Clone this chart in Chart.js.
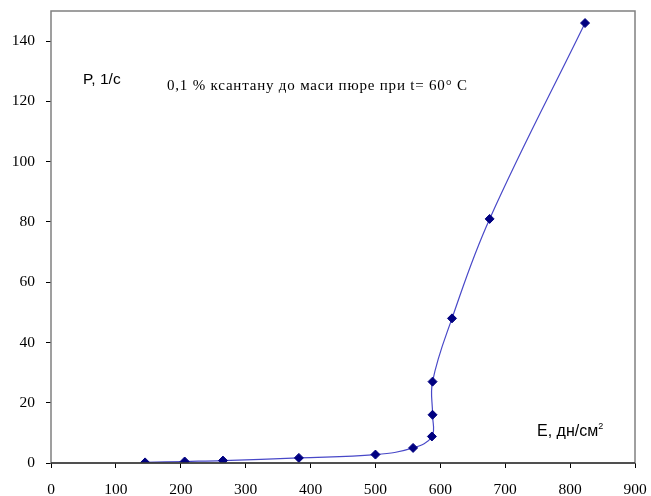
<!DOCTYPE html>
<html>
<head>
<meta charset="utf-8">
<script src="https://cdn.jsdelivr.net/npm/chart.js@4"></script>
<style>
  html, body { margin: 0; padding: 0; background: #fff; }
  #wrap { width: 651px; height: 496px; }
</style>
</head>
<body>
<div id="wrap"><canvas id="chart" width="651" height="496"></canvas></div>
<script>
// data
const shearStress = [145, 206, 265, 382, 500, 558, 587, 588, 588, 618, 676, 823]; // E, дн/см²
const shearRate   = [0.2, 0.5, 0.8, 1.7, 2.8, 5.0, 8.8, 16, 27, 48, 81, 146];     // P, 1/с
const xTicks = [0, 100, 200, 300, 400, 500, 600, 700, 800, 900];
const yTicks = [0, 20, 40, 60, 80, 100, 120, 140];

const points = shearStress.map((e, i) => ({ x: e, y: shearRate[i] }));

// frame round the plot area + the text notes
const framePlugin = {
    id: 'frame',
    afterDraw(chart) {
        const { ctx, chartArea: a } = chart;
        ctx.save();
        ctx.strokeStyle = '#808080';
        ctx.lineWidth = 1.5;
        ctx.strokeRect(a.left, a.top, a.right - a.left, a.bottom - a.top);
        // x axis line is darker
        ctx.strokeStyle = '#000';
        ctx.lineWidth = 1.2;
        ctx.beginPath();
        ctx.moveTo(a.left, a.bottom);
        ctx.lineTo(a.right, a.bottom);
        ctx.stroke();

        ctx.fillStyle = '#000';
        ctx.textBaseline = 'middle';
        ctx.textAlign = 'left';
        ctx.font = '15.5px "Liberation Sans", Arial, sans-serif';
        ctx.fillText('P, 1/с', 83, 80);

        ctx.font = '15px "Liberation Serif", "Times New Roman", serif';
        ctx.letterSpacing = '0.8px';
        ctx.fillText('0,1 % ксантану до маси пюре при t= 60° С', 167, 86);
        ctx.letterSpacing = '0px';

        ctx.font = '16px "Liberation Sans", Arial, sans-serif';
        const lbl = 'Е, дн/см';
        ctx.fillText(lbl, 537, 432);
        const w = ctx.measureText(lbl).width;
        ctx.font = '9px "Liberation Sans", Arial, sans-serif';
        ctx.fillText('2', 537 + w, 427);
        ctx.restore();
    }
};

const tickFont = { family: '"Liberation Serif", "Times New Roman", serif', size: 15.5 };

const ctx = document.getElementById('chart').getContext('2d');
new Chart(ctx, {
    type: 'scatter',
    data: {
        datasets: [{
            data: points,
            showLine: true,
            tension: 0.4,
            borderColor: '#4848C8',
            borderWidth: 1.2,
            pointStyle: 'rectRot',
            pointRadius: 4.5,
            pointBackgroundColor: '#000080',
            pointBorderColor: '#000080',
            pointBorderWidth: 1
        }]
    },
    options: {
        responsive: false,
        animation: false,
        layout: { padding: { top: 11, right: 16, left: 0, bottom: 0 } },
        plugins: {
            legend: { display: false },
            tooltip: { enabled: false }
        },
        scales: {
            x: {
                type: 'linear',
                min: 0,
                max: 900,
                afterBuildTicks: s => { s.ticks = xTicks.map(v => ({ value: v })); },
                afterFit: s => { s.height = 33; s.paddingLeft = 0; s.paddingRight = 0; },
                grid: { drawOnChartArea: false, drawTicks: true, tickLength: 5, color: '#000' },
                border: { display: false },
                ticks: { color: '#000', padding: 13, maxRotation: 0, font: tickFont }
            },
            y: {
                type: 'linear',
                min: 0,
                max: 150,
                afterBuildTicks: s => { s.ticks = yTicks.map(v => ({ value: v })); },
                afterFit: s => { s.width = 51; s.paddingTop = 0; s.paddingBottom = 0; },
                grid: { drawOnChartArea: false, drawTicks: true, tickLength: 5, color: '#000' },
                border: { display: false },
                ticks: { color: '#000', padding: 11, font: tickFont }
            }
        }
    },
    plugins: [framePlugin]
});
</script>
</body>
</html>
